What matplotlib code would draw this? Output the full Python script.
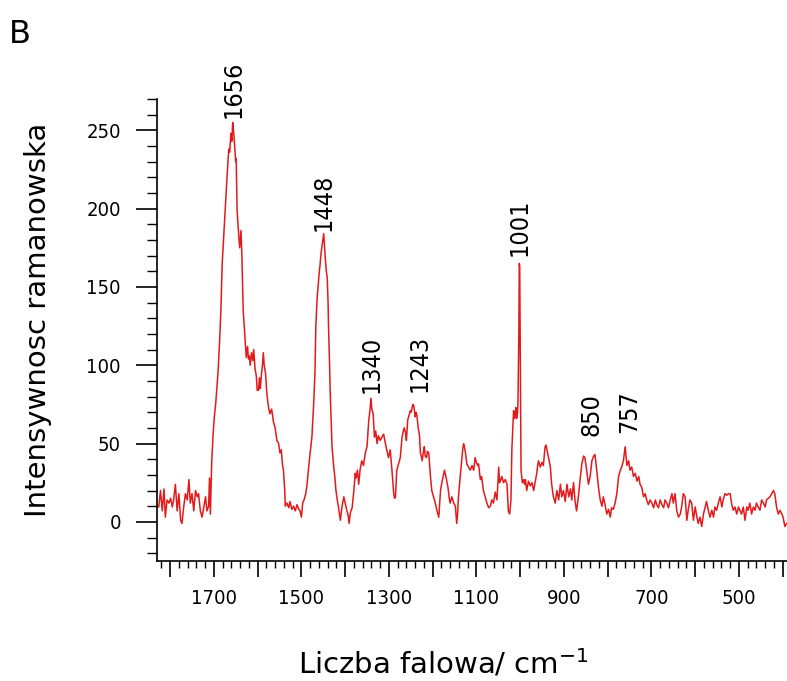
import matplotlib
matplotlib.use("Agg")
import matplotlib.pyplot as plt
from matplotlib.ticker import MultipleLocator, FuncFormatter

plt.rcParams['font.family'] = ['DejaVu Sans']
plt.rcParams['font.stretch'] = 'condensed'

# Raman spectrum (wavenumber cm-1, intensity)
wavenumber = [
    1830, 1826, 1822, 1818, 1814, 1811, 1807, 1803, 1799, 1795, 1792, 1788, 1784, 1780,
    1776, 1773, 1769, 1765, 1761, 1757, 1754, 1750, 1746, 1742, 1738, 1735, 1731, 1727,
    1723, 1719, 1716, 1712, 1710, 1708, 1705, 1702, 1699, 1696, 1693, 1690, 1687, 1684,
    1681, 1677, 1674, 1670, 1666, 1664, 1661, 1659, 1657, 1655, 1653, 1650, 1649, 1647,
    1643, 1641, 1638, 1636, 1633, 1629, 1626, 1623, 1621, 1619, 1617, 1614, 1611, 1609,
    1606, 1603, 1601, 1598, 1596, 1594, 1591, 1589, 1587, 1585, 1582, 1579, 1575, 1572,
    1568, 1564, 1560, 1556, 1552, 1549, 1546, 1543, 1541, 1538, 1537, 1533, 1529, 1526,
    1522, 1518, 1514, 1510, 1506, 1503, 1500, 1497, 1494, 1490, 1487, 1484, 1480, 1476,
    1472, 1469, 1467, 1464, 1462, 1459, 1457, 1456, 1453, 1451, 1449, 1447, 1445, 1443,
    1441, 1439, 1438, 1436, 1434, 1432, 1430, 1426, 1423, 1421, 1418, 1415, 1413, 1411,
    1407, 1403, 1400, 1396, 1393, 1391, 1388, 1384, 1380, 1377, 1375, 1372, 1369, 1366,
    1362, 1358, 1354, 1350, 1346, 1343, 1341, 1339, 1336, 1333, 1330, 1327, 1324, 1320,
    1316, 1312, 1308, 1304, 1301, 1297, 1293, 1291, 1289, 1287, 1285, 1282, 1278, 1274,
    1270, 1267, 1265, 1262, 1260, 1257, 1254, 1251, 1249, 1247, 1245, 1243, 1240, 1238,
    1236, 1233, 1230, 1228, 1226, 1224, 1221, 1219, 1217, 1214, 1212, 1209, 1207, 1205,
    1202, 1198, 1194, 1190, 1186, 1184, 1182, 1179, 1176, 1173, 1169, 1165, 1162, 1160,
    1156, 1152, 1148, 1145, 1143, 1141, 1137, 1133, 1131, 1129, 1126, 1124, 1122, 1118,
    1114, 1110, 1106, 1103, 1100, 1097, 1095, 1091, 1088, 1084, 1080, 1076, 1072, 1068,
    1065, 1061, 1057, 1053, 1049, 1047, 1044, 1042, 1038, 1034, 1030, 1027, 1024, 1021,
    1019, 1016, 1015, 1013, 1011, 1010, 1008, 1006, 1005, 1003, 1002, 1001, 1000, 999,
    998, 995, 992, 990, 988, 985, 981, 977, 973, 969, 966, 962, 960, 958,
    954, 950, 947, 943, 941, 938, 935, 931, 928, 924, 920, 916, 912, 908,
    905, 901, 897, 893, 889, 885, 882, 878, 874, 871, 867, 863, 859, 855,
    852, 848, 844, 840, 836, 832, 829, 825, 821, 817, 813, 810, 806, 802,
    798, 794, 791, 787, 783, 779, 775, 771, 768, 764, 760, 756, 752, 749,
    745, 741, 737, 733, 729, 726, 722, 718, 714, 711, 707, 703, 699, 695,
    691, 688, 684, 680, 676, 672, 669, 665, 661, 657, 653, 650, 646, 642,
    638, 634, 631, 627, 623, 619, 616, 612, 608, 604, 600, 596, 593, 589,
    585, 581, 577, 574, 570, 566, 562, 558, 555, 551, 547, 543, 539, 536,
    532, 528, 524, 520, 517, 513, 509, 505, 501, 498, 494, 490, 486, 482,
    479, 475, 471, 467, 463, 460, 456, 452, 448, 444, 440, 437, 433, 429,
    425, 421, 418, 414, 410, 406, 402, 399, 395, 391,
]
intensity = [
    10, 9.5, 20, 7, 21, 3, 14, 12, 15, 9.5, 14, 24, 7, 18,
    1, -1, 9.5, 18, 14, 27, 12, 18, 7, 20, 16, 18, 7, 3,
    9.5, 16, 7, 10, 28, 5, 38, 55, 67, 75, 86, 98, 115, 135,
    165, 185, 199, 220, 238, 236, 248, 243, 255, 249, 242, 230, 232, 199,
    182, 175, 186, 170, 135, 118, 105, 112, 104, 106, 100, 108, 103, 110,
    98, 93, 84, 84, 92, 85, 95, 100, 108, 100, 95, 82, 73, 69,
    72, 64, 60, 52, 50, 44, 46, 36, 33, 20, 10, 12, 9, 13,
    8, 10, 7, 11, 8, 7, 3, 12, 14, 18, 24, 33, 44, 54,
    75, 95, 125, 143, 150, 160, 165, 169, 176, 180, 184, 175, 167, 160,
    156, 140, 125, 105, 82, 65, 48, 35, 27, 20, 14, 9, 5, 1,
    10, 16, 12, 7, 4, -1, 6, 9, 20, 31, 28, 33, 24, 33,
    39, 36, 44, 48, 65, 72, 79, 72, 69, 54, 58, 50, 55, 52,
    54, 56, 50, 45, 41, 46, 33, 25, 18, 15, 16, 33, 37, 41,
    54, 58, 60, 57, 52, 65, 68, 71, 70, 73, 75, 74, 67, 70,
    68, 60, 55, 44, 42, 39, 45, 48, 42, 41, 45, 44, 36, 29,
    20, 16, 12, 7, 3, 12, 20, 25, 29, 33, 28, 22, 15, 12,
    16, 12, 10, -1, 5, 16, 29, 41, 47, 50, 46, 42, 37, 35,
    33, 36, 33, 41, 38, 36, 37, 27, 29, 20, 16, 12, 9, 10,
    14, 12, 19, 14, 35, 25, 27, 29, 25, 27, 24, 7, 5, 14,
    46, 65, 71, 66, 68, 73, 66, 70, 76, 120, 165, 163, 120, 67,
    33, 25, 27, 24, 27, 20, 26, 23, 25, 20, 25, 31, 36, 39,
    35, 38, 36, 48, 49, 45, 41, 35, 24, 16, 12, 20, 14, 24,
    16, 20, 13, 24, 16, 21, 14, 25, 12, 7, 16, 27, 37, 42,
    41, 33, 24, 29, 39, 42, 43, 33, 22, 14, 10, 16, 11, 5,
    8, 3, 9, 8, 12, 18, 29, 33, 35, 39, 48, 36, 39, 33,
    35, 29, 31, 26, 29, 24, 22, 16, 18, 14, 11, 14, 12, 9,
    14, 11, 9, 14, 11, 9, 14, 12, 9, 14, 18, 12, 18, 7,
    3, 5, 9.5, 18, 16, 1, 7.4, 14, 12, 1, 9.5, 3, -1, 3,
    -3, 5, 9.5, 13, 7.4, 3, 7.4, 3, 9.5, 7.4, 12, 16, 9.5, 14,
    18, 17, 18, 18, 12, 7.4, 9.5, 5, 9.5, 7.4, 5, 9.5, 1, 9.5,
    7.4, 12, 5, 9.5, 7.4, 12, 9.5, 7.4, 14, 12, 9.5, 14, 15, 16,
    18, 20, 18, 9.5, 5, 7.4, 5, 3, -3, -1,
]

peak_labels = ["1656", "1448", "1340", "1243", "1001", "850", "757"]
label_x = [1656, 1450, 1339, 1230, 1001, 837, 750]
label_y = [257.7, 186, 82, 83, 170, 55, 57]

fig = plt.figure(figsize=(7.87, 6.81), dpi=100)
ax = fig.add_axes([0.1995, 0.1762, 0.8, 0.6784])

ax.plot(wavenumber, intensity, color="#e31a1c", lw=1.1)

ax.set_xlim(1830, 391)
ax.set_ylim(-25, 270)

for s in ["top", "right"]:
    ax.spines[s].set_visible(False)
for s in ["left", "bottom"]:
    ax.spines[s].set_linewidth(1.2)

ax.xaxis.set_major_locator(MultipleLocator(100))
ax.xaxis.set_minor_locator(MultipleLocator(20))
ax.xaxis.set_major_formatter(FuncFormatter(lambda v, p: f"{int(v)}" if int(round(v)) % 200 == 100 else ""))
ax.yaxis.set_major_locator(MultipleLocator(50))
ax.yaxis.set_minor_locator(MultipleLocator(10))

ax.tick_params(axis="x", which="major", length=11.5, width=1.2, pad=9, labelsize=14.5)
ax.tick_params(axis="x", which="minor", length=5, width=1.0)
ax.tick_params(axis="y", which="major", length=15, width=1.2, pad=11, labelsize=14.5)
ax.tick_params(axis="y", which="minor", length=7, width=1.0)

for txt, x, y in zip(peak_labels, label_x, label_y):
    ax.text(x, y, txt, rotation=90, ha="center", va="bottom", fontsize=18)

fig.text(443 / 787, 1 - 673 / 681, r"Liczba falowa/ cm$^{\mathregular{-1}}$",
         ha="center", va="baseline", fontsize=21, fontstretch="normal")
fig.text(38 / 787, 1 - 320 / 681, "Intensywnosc ramanowska", rotation=90,
         ha="center", va="center", fontsize=21, fontstretch="normal")
fig.text(9 / 787, 1 - 43 / 681, "B", ha="left", va="baseline", fontsize=23,
         fontstretch="normal")

fig.savefig("out.png", dpi=100)
